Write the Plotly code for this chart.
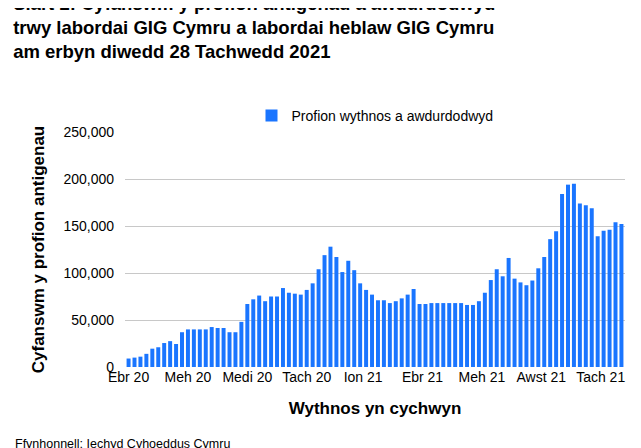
import plotly.graph_objects as go

# weekly antigen tests authorised
tests = [9000, 10000, 11000, 14000, 19500, 21000, 25500, 27500, 24500, 37000,
         40000, 40000, 40000, 40000, 42500, 41500, 41500, 37000, 37000, 48000,
         67000, 72000, 76000, 70000, 75000, 75000, 84000, 79000, 78000, 77000,
         82000, 89000, 104000, 119000, 128000, 117000, 101000, 113000, 103000, 89000,
         82000, 77000, 71000, 71000, 68000, 70000, 73000, 77000, 83000, 67000,
         67000, 68000, 68000, 68000, 68000, 68000, 68000, 66000, 66000, 70000,
         79000, 92500, 104000, 96500, 116000, 94000, 90000, 87000, 92000, 105000,
         117000, 136000, 144500, 184000, 194000, 195000, 174000, 172000, 169000, 139000,
         145000, 146000, 154000, 152000]
weeks = list(range(len(tests)))
tick_labels = ["Ebr 20", "Meh 20", "Medi 20", "Tach 20", "Ion 21",
               "Ebr 21", "Meh 21", "Awst 21", "Tach 21"]
tick_weeks = [0, 10, 20, 30, 39.5, 49.5, 59.5, 69.5, 79.5]

fig = go.Figure()
fig.add_trace(go.Bar(x=weeks, y=tests, name="Profion wythnos a awdurdodwyd",
                     marker=dict(color="#1a75ff", line=dict(width=0))))

fig.update_layout(
    width=641, height=448,
    font=dict(family="Liberation Sans, Arial", size=14, color="#000"),
    title=dict(text="<b>Siart 2: Cyfanswm y profion antigenau a awdurdodwyd<br>"
                    "trwy labordai GIG Cymru a labordai heblaw GIG Cymru<br>"
                    "am erbyn diwedd 28 Tachwedd 2021</b>",
               x=0.008, xanchor="left", yref="container", y=0.995, yanchor="top",
               font=dict(size=18.5)),
    margin=dict(l=117, r=24, t=124, b=89, autoexpand=False),
    plot_bgcolor="white", paper_bgcolor="white",
    bargap=0.33,
    showlegend=True,
    legend=dict(orientation="h", x=0.5, xanchor="center", y=1.0, yanchor="bottom",
                font=dict(size=14), itemwidth=30),
    xaxis=dict(tickmode="array", tickvals=tick_weeks, ticktext=tick_labels,
               range=[-0.6, len(tests) - 0.4], showgrid=False, ticks="",
               automargin=False,
               title=dict(text="<b>Wythnos yn cychwyn</b>", standoff=18)),
    yaxis=dict(range=[0, 250000], dtick=50000, tickformat=",", gridcolor="#c8c8c8",
               showline=False, zeroline=False, ticks="", ticklabelstandoff=10,
               automargin=False,
               title=dict(text="<b>Cyfanswm y profion antigenau</b>", standoff=14)),
    annotations=[dict(text="Ffynhonnell: Iechyd Cyhoeddus Cymru", xref="paper", yref="paper",
                      x=-0.225, y=-0.29, xanchor="left", yanchor="top",
                      showarrow=False, font=dict(size=12.5))],
)

fig.write_html("out.html")
